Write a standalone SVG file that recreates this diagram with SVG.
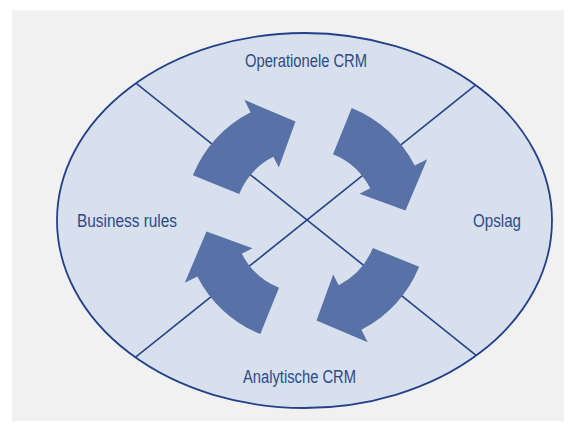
<svg xmlns="http://www.w3.org/2000/svg" width="574" height="430" viewBox="0 0 574 430">
  <style>
    .label { font-family: "Liberation Sans Narrow", "Liberation Sans", Arial, sans-serif; font-size: 17.5px; fill: #2d4a8c; }
    .divider { stroke: #23408a; stroke-width: 1.6; fill: none; }
    .cycle { fill: #5872a8; }
  </style>
  <defs>
    <clipPath id="ellipseClip">
      <ellipse cx="304.5" cy="220.5" rx="247.5" ry="187.5"/>
    </clipPath>
    <!-- one curved arrow segment around the centre; the others are rotations -->
    <path id="arcArrow" d="M 113.1 45.7 A 122 122 0 0 1 55.4 108.7 L 61.7 121.2 L 10.5 99.5 L 27.2 53.5 L 32.7 64.2 A 72 72 0 0 0 66.8 27.0 Z"/>
  </defs>

  <!-- page -->
  <rect x="0" y="0" width="574" height="430" fill="#ffffff"/>
  <rect x="12" y="10" width="552" height="411" fill="#f1f1f1"/>

  <!-- main ellipse -->
  <g id="ellipse">
    <ellipse cx="304.5" cy="220.5" rx="247.5" ry="187.5" fill="#d7e0ec" stroke="#23408a" stroke-width="1.8"/>
  </g>

  <!-- quadrant dividers -->
  <g id="connectors" clip-path="url(#ellipseClip)">
    <line class="divider" x1="80" y1="38.4" x2="534" y2="401.6"/>
    <line class="divider" x1="80" y1="401.6" x2="534" y2="38.4"/>
  </g>

  <!-- cycle arrows -->
  <g id="cycle-arrows" transform="translate(306,221)">
    <use href="#arcArrow" class="cycle"/>
    <use href="#arcArrow" class="cycle" transform="rotate(90)"/>
    <use href="#arcArrow" class="cycle" transform="rotate(180)"/>
    <use href="#arcArrow" class="cycle" transform="rotate(270)"/>
  </g>

  <g id="node-operationele">
    <text class="label" x="245" y="67" textLength="122" lengthAdjust="spacingAndGlyphs">Operationele CRM</text>
  </g>
  <g id="node-business-rules">
    <text class="label" x="77" y="227" textLength="100" lengthAdjust="spacingAndGlyphs">Business rules</text>
  </g>
  <g id="node-opslag">
    <text class="label" x="473" y="227" textLength="48" lengthAdjust="spacingAndGlyphs">Opslag</text>
  </g>
  <g id="node-analytische">
    <text class="label" x="243" y="383" textLength="113" lengthAdjust="spacingAndGlyphs">Analytische CRM</text>
  </g>
</svg>
